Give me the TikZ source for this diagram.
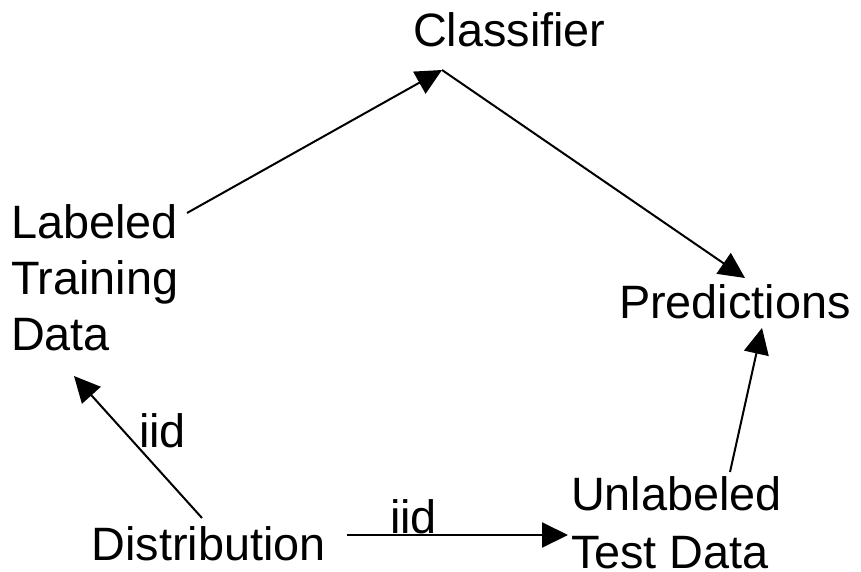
\documentclass[tikz,border=0pt]{standalone}
\usepackage{fontspec}
\setmainfont{Liberation Sans}
\usetikzlibrary{arrows.meta}
\begin{document}
\begin{tikzpicture}[x=1bp,y=-1bp,
  lbl/.style={inner sep=0pt,outer sep=0pt,anchor=base west,font=\fontsize{47}{56}\selectfont,align=left},
  conn/.style={line width=2bp,-{Triangle[length=26bp,width=25bp]}}]
\useasboundingbox (0,0) rectangle (861,572);
\node[lbl] (cls) at (413,47) {Classifier};
\node[lbl] (lab) at (11,350) {Labeled\\Training\\Data};
\node[lbl] (pred) at (619,318) {Predictions};
\node[lbl] (dist) at (91.5,560) {Distribution};
\node[lbl,font=\fontsize{47}{58}\selectfont] (unl) at (571,568) {Unlabeled\\Test Data};
\node[lbl] (iida) at (139,447) {iid};
\node[lbl] (iidb) at (390,533) {iid};
\coordinate (labout) at (187,213);
\coordinate (clsin) at (442,70);
\coordinate (predin) at (745,278);
\coordinate (unlout) at (730,472);
\coordinate (predin2) at (762,328);
\coordinate (distout) at (202,518);
\coordinate (labin) at (74,376);
\coordinate (distout2) at (347,535);
\coordinate (unlin) at (568,535);
\draw[conn] (labout) -- (clsin);
\draw[conn] (clsin) -- (predin);
\draw[conn] (unlout) -- (predin2);
\draw[conn] (distout) -- (labin);
\draw[conn] (distout2) -- (unlin);
\end{tikzpicture}
\end{document}
